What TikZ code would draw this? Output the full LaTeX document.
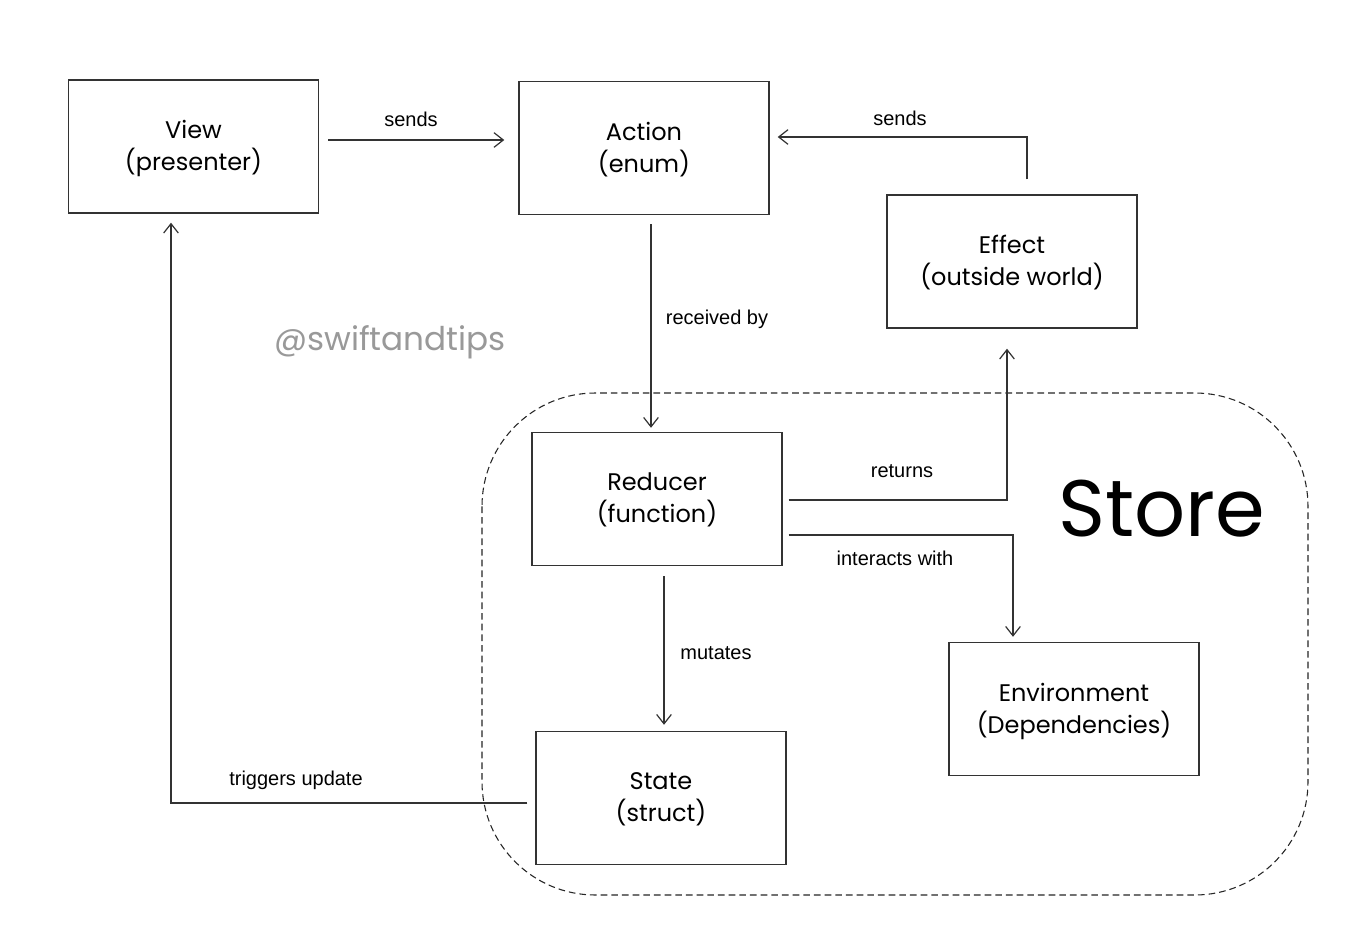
\documentclass[tikz,border=0pt]{standalone}
\usepackage{fontspec}
\setmainfont{Liberation Sans}
\newfontfamily\handfont{Poppins}
\usetikzlibrary{arrows.meta,calc}
\begin{document}
\begin{tikzpicture}[x=0.75pt,y=-0.75pt,
  box/.style={draw=black!80,line width=1.1pt,minimum width=250*0.75pt,minimum height=133*0.75pt,
    align=center,font=\handfont\fontsize{18}{24}\selectfont,inner sep=0pt,text depth=1.5pt},
  arr/.style={draw=black!80,line width=0.9pt,-{Straight Barb[length=7pt,width=11pt,line width=0.9pt]}},
  lbl/.style={font=\fontsize{15}{18}\selectfont,inner sep=1pt}]
\useasboundingbox (0,0) rectangle (1368,935);
\fill[white] (0,0) rectangle (1368,935);
% Store region
\draw[black!85,line width=0.8pt,dash pattern=on 5pt off 3pt,rounded corners=85pt] (482,393) rectangle (1308,895);
\node[font=\handfont\fontsize{60}{68}\selectfont] (store) at (1162,509) {Store};
\node[font=\handfont\fontsize{24.5}{28}\selectfont,text=black!40] (wm) at (390,342) {@swiftandtips};
% boxes
\node[box] (view) at (193.5,146.5) {View\\(presenter)};
\node[box] (action) at (644,148) {Action\\(enum)};
\node[box] (effect) at (1012,261.5) {Effect\\(outside world)};
\node[box] (reducer) at (657,499) {Reducer\\(function)};
\node[box] (state) at (661,798) {State\\(struct)};
\node[box] (env) at (1074,709) {Environment\\(Dependencies)};
% connectors
\draw[arr] ([shift={(9,-6.5)}]view.east) -- ([shift={(-14,-8)}]action.west);
\node[lbl] (l1) at (411,119) {sends};
\draw[arr] ([shift={(15,-15)}]effect.north) |- ([shift={(8,-11)}]action.east);
\node[lbl] (l2) at (900,118) {sends};
\coordinate (a1) at ([shift={(7,9)}]action.south);
\coordinate (r1) at ([shift={(-6,-4)}]reducer.north);
\draw[arr] (a1) -- (a1 |- r1);
\node[lbl] (l3) at (717,319) {received by};
\draw[arr] ([shift={(6,1)}]reducer.east) -| ([shift={(-5,20)}]effect.south);
\node[lbl] (l4) at (902,471) {returns};
\draw[arr] ([shift={(6,36)}]reducer.east) -| ([shift={(-61,-5)}]env.north);
\node[lbl] (l5) at (895,558) {interacts with};
\coordinate (r2) at ([shift={(7,10)}]reducer.south);
\coordinate (s1) at ([shift={(3,-6)}]state.north);
\draw[arr] (r2) -- (r2 |- s1);
\node[lbl] (l6) at (716,653) {mutates};
\draw[arr] ([shift={(-8,5)}]state.west) -| ([shift={(-22.5,9)}]view.south);
\node[lbl] (l7) at (296,780) {triggers update};
\end{tikzpicture}
\end{document}
